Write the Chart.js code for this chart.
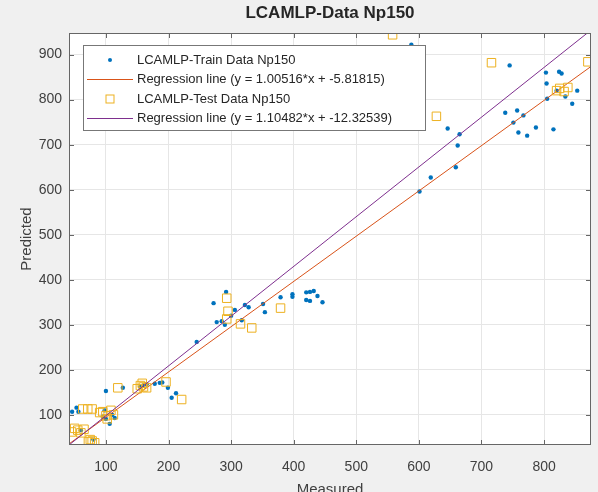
<!DOCTYPE html>
<html>
<head>
<meta charset="utf-8">
<script src="https://cdn.jsdelivr.net/npm/chart.js@4.4.1/dist/chart.umd.min.js"></script>
<style>
  html, body { margin: 0; padding: 0; background: #f0f0f0; }
</style>
</head>
<body>
<canvas id="chart" width="598" height="492"></canvas>
<script>
'use strict';

// train data (measured / predicted)
const trainMeasured = [46, 53, 56, 60, 80, 95, 98, 100, 100, 106, 110, 114, 127, 155, 160, 165, 178, 186, 190, 199, 205, 212,
  245, 272, 277, 285, 290, 292, 300, 306, 317, 322, 328, 351, 354, 379, 398, 398, 420, 420, 426, 426, 432, 438, 446,
  588, 601, 619, 646, 659, 662, 665, 738, 745, 751, 757, 759, 767, 773, 787, 803, 804, 805, 815, 820, 824, 828, 834, 845, 853];
const trainPredicted = [107, 116, 107, 66, 45, 96, 110, 153, 91, 80, 100, 93, 160, 162, 165, 168, 169, 171, 172, 160, 138, 148,
  262, 348, 306, 308, 300, 373, 320, 333, 310, 344, 339, 346, 328, 361, 368, 362, 372, 355, 373, 353, 375, 364, 350,
  922, 596, 627, 736, 650, 698, 723, 771, 876, 749, 776, 727, 765, 720, 738, 860, 836, 802, 734, 820, 862, 858, 807, 791, 820];

// test data (measured / predicted)
const testMeasured = [45, 50, 55, 60, 65, 72, 75, 78, 82, 63, 71, 78, 90, 95, 100, 102, 108, 112, 119, 150, 155, 158, 160, 165, 196, 221,
  293, 295, 293, 315, 333, 379, 558, 628, 716, 820, 825, 832, 838, 870];
const testPredicted = [62, 70, 66, 60, 68, 40, 45, 42, 38, 113, 113, 113, 105, 107, 98, 91, 110, 100, 160, 158, 165, 170, 162, 160, 173, 134,
  359, 330, 313, 302, 293, 337, 944, 763, 882, 820, 825, 818, 827, 884];

// regression lines
const reg1Slope = 1.00516, reg1Intercept = -5.81815;
const reg2Slope = 1.10482, reg2Intercept = -12.32539;

// axes
const xLimits = [41, 875];
const yLimits = [33, 948];
const xTickValues = [100, 200, 300, 400, 500, 600, 700, 800];
const yTickValues = [100, 200, 300, 400, 500, 600, 700, 800, 900];

const toPoints = (xs, ys) => xs.map((x, i) => ({x: x, y: ys[i]}));
const linePoints = (slope, intercept) => xLimits.map((x) => ({x: x, y: slope * x + intercept}));

const fontFamily = '"Liberation Sans", Arial, sans-serif';

//背景・枠・内向き目盛り・タイトル・凡例
const matlabFrame = {
  id: 'matlabFrame',
  beforeDraw(chart) {
    const {ctx, chartArea: a} = chart;
    ctx.save();
    ctx.fillStyle = '#f0f0f0';
    ctx.fillRect(0, 0, chart.width, chart.height);
    ctx.fillStyle = '#ffffff';
    ctx.fillRect(a.left, a.top, a.right - a.left, a.bottom - a.top);
    ctx.restore();
  },
  afterDraw(chart) {
    const {ctx, chartArea: a, scales} = chart;
    ctx.save();
    ctx.strokeStyle = '#666666';
    ctx.lineWidth = 1;
    ctx.strokeRect(a.left + 0.5, a.top + 0.5, a.right - a.left - 1, a.bottom - a.top - 1);
    ctx.beginPath();
    xTickValues.forEach((v) => {
      const px = Math.round(scales.x.getPixelForValue(v)) + 0.5;
      ctx.moveTo(px, a.bottom); ctx.lineTo(px, a.bottom - 5);
      ctx.moveTo(px, a.top); ctx.lineTo(px, a.top + 5);
    });
    yTickValues.forEach((v) => {
      const py = Math.round(scales.y.getPixelForValue(v)) + 0.5;
      ctx.moveTo(a.left, py); ctx.lineTo(a.left + 5, py);
      ctx.moveTo(a.right, py); ctx.lineTo(a.right - 5, py);
    });
    ctx.stroke();

    // title
    ctx.fillStyle = '#262626';
    ctx.font = 'bold 17px ' + fontFamily;
    ctx.textAlign = 'center';
    ctx.textBaseline = 'middle';
    ctx.fillText('LCAMLP-Data Np150', (a.left + a.right) / 2, 13);

    // legend
    const bx = a.left + 14, by = a.top + 12, bw = 342, bh = 85;
    ctx.fillStyle = '#ffffff';
    ctx.fillRect(bx, by, bw, bh);
    ctx.strokeStyle = '#777777';
    ctx.strokeRect(bx + 0.5, by + 0.5, bw, bh);
    ctx.font = '13px ' + fontFamily;
    ctx.textAlign = 'left';
    chart.data.datasets.forEach((ds, i) => {
      const ry = by + 15 + i * 19.5;
      if (ds.showLine) {
        ctx.strokeStyle = ds.borderColor;
        ctx.beginPath();
        ctx.moveTo(bx + 4, ry); ctx.lineTo(bx + 50, ry);
        ctx.stroke();
      } else if (ds.pointStyle === 'rect') {
        ctx.strokeStyle = ds.borderColor;
        ctx.strokeRect(bx + 23, ry - 4, 8, 8);
      } else {
        ctx.fillStyle = ds.backgroundColor;
        ctx.beginPath();
        ctx.arc(bx + 27, ry, 2, 0, Math.PI * 2);
        ctx.fill();
      }
      ctx.fillStyle = '#262626';
      ctx.fillText(ds.label, bx + 54, ry);
    });
    ctx.restore();
  }
};

const tickFont = {family: fontFamily, size: 14};
const titleFont = {family: fontFamily, size: 15};

new Chart(document.getElementById('chart'), {
  type: 'scatter',
  data: {
    datasets: [
      {
        label: 'LCAMLP-Train Data Np150',
        data: toPoints(trainMeasured, trainPredicted),
        pointStyle: 'circle',
        pointRadius: 2.2,
        backgroundColor: '#0072BD',
        borderColor: '#0072BD',
        borderWidth: 0,
        showLine: false,
        order: 4
      },
      {
        label: 'Regression line (y = 1.00516*x + -5.81815)',
        data: linePoints(reg1Slope, reg1Intercept),
        showLine: true,
        borderColor: '#D95319',
        borderWidth: 1,
        pointRadius: 0,
        order: 3
      },
      {
        label: 'LCAMLP-Test Data Np150',
        data: toPoints(testMeasured, testPredicted),
        pointStyle: 'rect',
        pointRadius: 6,
        backgroundColor: 'rgba(0,0,0,0)',
        borderColor: '#EDB120',
        borderWidth: 1,
        showLine: false,
        order: 2
      },
      {
        label: 'Regression line (y = 1.10482*x + -12.32539)',
        data: linePoints(reg2Slope, reg2Intercept),
        showLine: true,
        borderColor: '#7E2F8E',
        borderWidth: 1,
        pointRadius: 0,
        order: 1
      }
    ]
  },
  options: {
    responsive: false,
    animation: false,
    layout: { padding: { top: 33, right: 6, left: 0, bottom: 0 } },
    plugins: {
      legend: { display: false },
      tooltip: { enabled: false },
      title: { display: false }
    },
    scales: {
      x: {
        type: 'linear',
        min: xLimits[0],
        max: xLimits[1],
        afterBuildTicks: (s) => { s.ticks = xTickValues.map((v) => ({value: v})); },
        afterFit: (s) => { s.height = 47; },
        grid: { color: '#e6e6e6', drawTicks: false },
        border: { display: false },
        ticks: { padding: 14, color: '#404040', font: tickFont, maxRotation: 0 },
        title: { display: true, text: 'Measured', color: '#404040', font: titleFont, padding: {top: 0, bottom: -7} }
      },
      y: {
        type: 'linear',
        min: yLimits[0],
        max: yLimits[1],
        afterBuildTicks: (s) => { s.ticks = yTickValues.map((v) => ({value: v})); },
        afterFit: (s) => { s.width = 69; },
        grid: { color: '#e6e6e6', drawTicks: false },
        border: { display: false },
        ticks: { padding: 7, color: '#404040', font: tickFont },
        title: { display: true, text: 'Predicted', color: '#404040', font: titleFont, padding: {top: 18, bottom: 0} }
      }
    }
  },
  plugins: [matlabFrame]
});
</script>
</body>
</html>
